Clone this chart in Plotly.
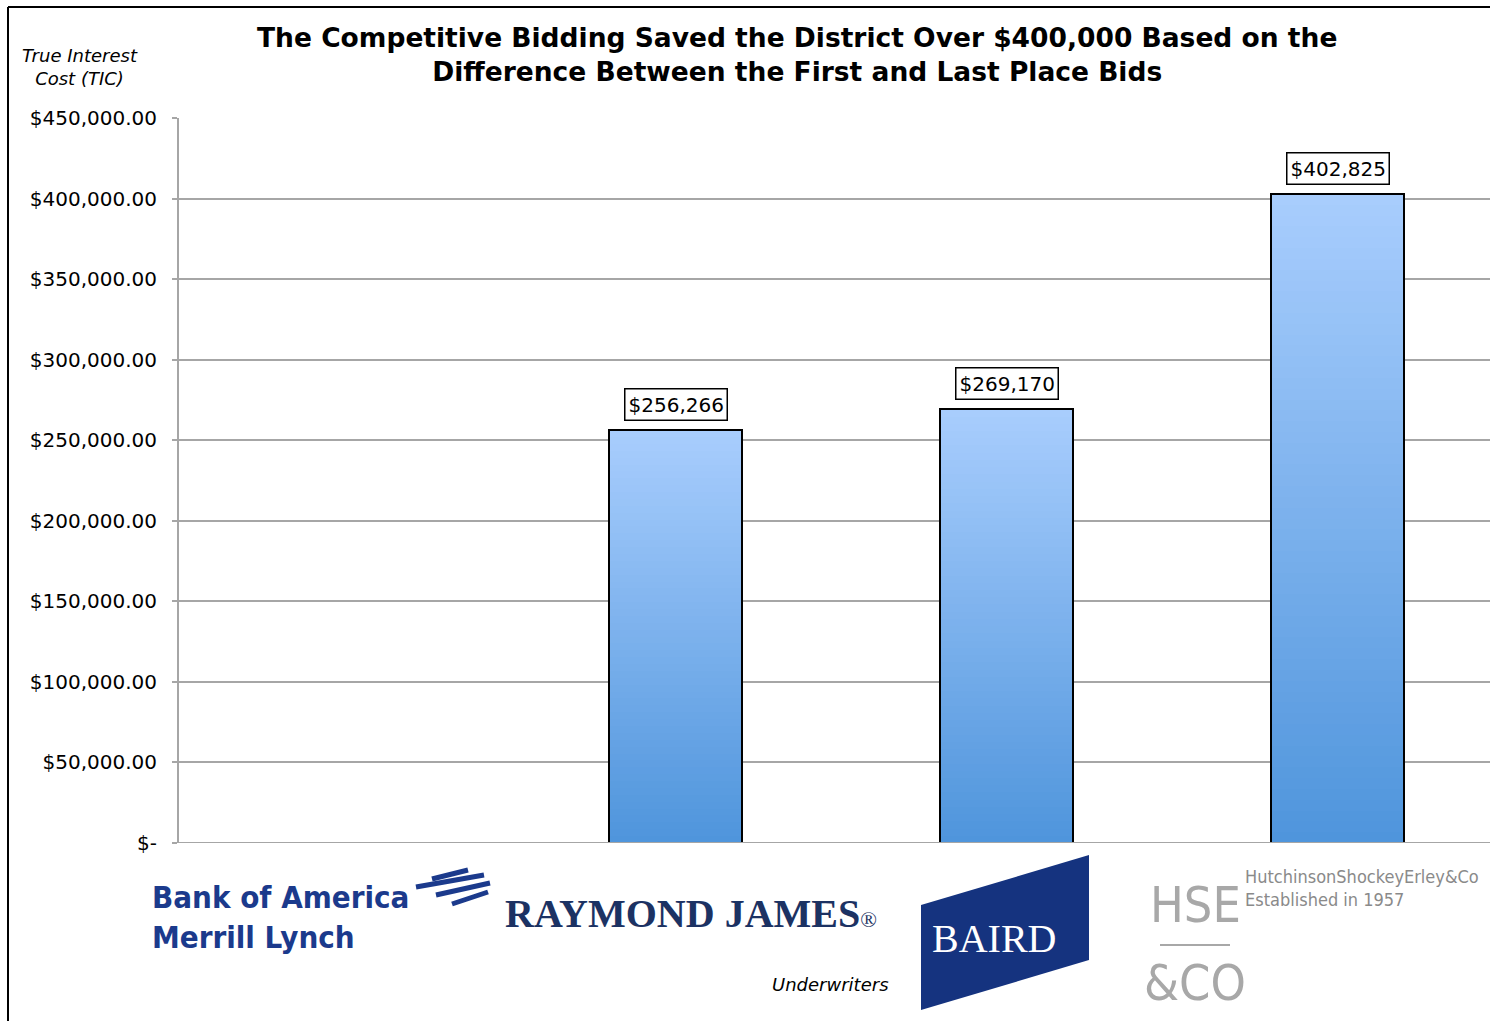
import plotly.graph_objects as go

# ---- data ----
categories = ["Bank of America Merrill Lynch", "Raymond James", "Baird", "Hutchinson Shockey Erley & Co"]
tic_values = [None, 256266, 269170, 402825]
bar_labels = ["", "$256,266", "$269,170", "$402,825"]
tick_values = [0, 50000, 100000, 150000, 200000, 250000, 300000, 350000, 400000, 450000]
tick_labels = ["$-", "$50,000.00", "$100,000.00", "$150,000.00", "$200,000.00",
               "$250,000.00", "$300,000.00", "$350,000.00", "$400,000.00", "$450,000.00"]

W, H = 1490, 1021
ML, MR, MT, MB = 179, 0, 118, 178
PW, PH = W - ML - MR, H - MT - MB

def px(x):
    return (x - ML) / PW

def py(y):
    return (H - MB - y) / PH

TOP = (168, 205, 253)
BOT = (79, 149, 220)
N = 60

xs = [c for c, v in zip(categories, tic_values) if v is not None]
vs = [v for v in tic_values if v is not None]

fig = go.Figure()
for i in range(N):
    t = i / (N - 1)
    col = tuple(round(BOT[k] + (TOP[k] - BOT[k]) * t) for k in range(3))
    fig.add_trace(go.Bar(
        x=xs, y=[v / N for v in vs], base=[v * i / N for v in vs],
        marker=dict(color="rgb(%d,%d,%d)" % col, line=dict(width=0)),
        width=0.4, hoverinfo="skip", showlegend=False))
fig.add_trace(go.Bar(
    x=xs, y=vs, width=0.4,
    marker=dict(color="rgba(0,0,0,0)", line=dict(color="black", width=2)),
    showlegend=False))

annotations = []
for c, v, lab in zip(categories, tic_values, bar_labels):
    if v is None:
        continue
    annotations.append(dict(x=c, y=v, xref="x", yref="y", text=lab, showarrow=False,
                            yanchor="bottom", yshift=9,
                            font=dict(family="DejaVu Sans", size=20, color="black"),
                            bgcolor="white", bordercolor="black", borderwidth=1.5, borderpad=3))

def txt(x, y, text, size, color="black", family="DejaVu Sans", xanchor="center", yanchor="middle", align="center"):
    annotations.append(dict(x=px(x), y=py(y), xref="paper", yref="paper", text=text, showarrow=False,
                            xanchor=xanchor, yanchor=yanchor, align=align,
                            font=dict(family=family, size=size, color=color)))

txt(797, 54, "<b>The Competitive Bidding Saved the District Over $400,000 Based on the<br>Difference Between the First and Last Place Bids</b>", 26.5)
txt(80, 67, "<i>True Interest<br>Cost (TIC)</i>", 18)
txt(150, 917, "<b>Bank of America<br>Merrill Lynch</b>", 31, color="#1b3a8c",
    family="DejaVu Sans Condensed, Roboto, sans-serif", xanchor="left", align="left")
txt(503, 913, "<b>RAYMOND JAMES</b><span style='font-size:22px'>®</span>", 40, color="#1c3263",
    family="Liberation Serif, serif", xanchor="left")
txt(994, 938, "BAIRD", 40, color="white", family="Liberation Serif, serif")
txt(1195, 905, "HSE", 50, color="#a8a8a8", family="DejaVu Sans Condensed, Roboto, sans-serif")
txt(1195, 983, "&amp;CO", 50, color="#a8a8a8", family="DejaVu Sans Condensed, Roboto, sans-serif")
txt(1243, 888, "HutchinsonShockeyErley&amp;Co<br>Established in 1957", 18, color="#8a8a8a",
    family="DejaVu Sans Condensed, Roboto, sans-serif", xanchor="left", align="left")
txt(830, 984, "<i>Underwriters</i>", 18)

shapes = []
def line(x0, y0, x1, y1, color, width):
    shapes.append(dict(type="line", xref="paper", yref="paper", x0=px(x0), y0=py(y0),
                       x1=px(x1), y1=py(y1), line=dict(color=color, width=width)))

# figure frame
line(8, 7, 8, 1021, "black", 2)
line(8, 7, 1490, 7, "black", 2)
# Bank of America flag emblem
for (a, b, c, d) in [(432, 879, 468, 870), (416, 887, 484, 875), (436, 895, 490, 883), (452, 904, 488, 892)]:
    line(a, b, c, d, "#1b3a8c", 5)
# Baird parallelogram
pts = [(921, 905), (1089, 855), (1089, 960), (921, 1010)]
path = "M " + " L ".join("%f,%f" % (px(a), py(b)) for a, b in pts) + " Z"
shapes.append(dict(type="path", xref="paper", yref="paper", path=path,
                   fillcolor="#15337f", line=dict(width=0), layer="below"))
# HSE divider
line(1160, 945, 1230, 945, "#a8a8a8", 2)

fig.update_layout(
    width=W, height=H, margin=dict(l=ML, r=MR, t=MT, b=MB),
    barmode="overlay", bargap=0,
    plot_bgcolor="white", paper_bgcolor="white",
    annotations=annotations, shapes=shapes,
    xaxis=dict(type="category", categoryorder="array", categoryarray=categories,
               range=[-0.5, -0.5 + PW / 331.0], showticklabels=False, showgrid=False,
               zeroline=False, showline=False, ticks=""),
    yaxis=dict(range=[0, 450000], tickvals=tick_values, ticktext=tick_labels,
               showgrid=True, gridcolor="#a6a6a6", gridwidth=2,
               showline=True, linecolor="#a6a6a6", linewidth=2,
               ticks="outside", ticklen=5, tickcolor="#a6a6a6", tickwidth=2,
               ticklabelstandoff=11,
               zeroline=False, tickfont=dict(family="DejaVu Sans", size=20, color="black")),
)
fig.add_hline(y=0, line=dict(color="#a6a6a6", width=2))

fig.write_html("out.html")
